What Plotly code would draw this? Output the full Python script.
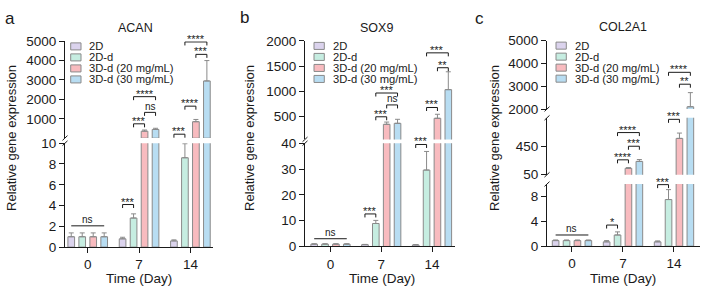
import plotly.graph_objects as go

W, H = 701, 295
FONT = "Liberation Sans, Arial, sans-serif"
INK = "#1a1a1a"
OUTLINE = "#8a8a8a"
ERRC = "#8a8a8a"

days = ["0", "7", "14"]
groups = ["2D", "2D-d", "3D-d (20 mg/mL)", "3D-d (30 mg/mL)"]
fills = ["#dbd3ed", "#c6ede1", "#f8bbbf", "#b8ddf2"]

# ---- ACAN ----
acan_2d = [1.0, 0.8, 0.6]
acan_2d_err = [0.37, 0.15, 0.1]
acan_2dd = [1.0, 2.8, 8.6]
acan_2dd_err = [0.37, 0.4, 1.35]
acan_3d20 = [1.0, 360, 850]
acan_3d20_err = [0.37, 60, 115]
acan_3d30 = [1.0, 450, 2950]
acan_3d30_err = [0.37, 60, 1050]

# ---- SOX9 ----
sox9_2d = [0.9, 0.7, 0.6]
sox9_2d_err = [0.15, 0.1, 0.1]
sox9_2dd = [0.9, 8.9, 29.6]
sox9_2dd_err = [0.15, 1.2, 7.2]
sox9_3d20 = [0.9, 340, 460]
sox9_3d20_err = [0.15, 45, 80]
sox9_3d30 = [0.9, 360, 1030]
sox9_3d30_err = [0.15, 80, 355]

# ---- COL2A1 ----
col_2d = [0.9, 0.7, 0.7]
col_2d_err = [0.1, 0.2, 0.15]
col_2dd = [0.9, 1.8, 7.5]
col_2dd_err = [0.1, 0.5, 1.6]
col_3d20 = [0.9, 140, 560]
col_3d20_err = [0.1, 10, 75]
col_3d30 = [0.9, 237, 2100]
col_3d30_err = [0.1, 26, 620]

# significance marks: (kind, day index, bar i, bar j, level, label)
acan_sig = [("line", 0, 0, 3, 2.05, "ns"), ("br", 1, 0, 1, 4.1, "***"),
            ("br", 1, 1, 2, 740, "***"), ("br", 1, 2, 3, 1330, "ns"),
            ("br", 1, 1, 3, 2140, "****"), ("br", 2, 0, 1, 205, "***"),
            ("br", 2, 1, 2, 1650, "****"), ("br", 2, 2, 3, 4320, "***"),
            ("br", 2, 1, 3, 4960, "****")]
sox9_sig = [("line", 0, 0, 3, 3.0, "ns"), ("br", 1, 0, 1, 12.6, "***"),
            ("br", 1, 1, 2, 490, "***"), ("br", 1, 2, 3, 726, "ns"),
            ("br", 1, 1, 3, 963, "***"), ("br", 2, 0, 1, 39.5, "***"),
            ("br", 2, 1, 2, 675, "***"), ("br", 2, 2, 3, 1466, "**"),
            ("br", 2, 1, 3, 1762, "***")]
col_sig = [("line", 0, 0, 3, 1.8, "ns"), ("br", 1, 0, 1, 3.4, "*"),
           ("br", 1, 1, 2, 259, "****"), ("br", 1, 2, 3, 450, "***"),
           ("br", 1, 1, 3, 642, "****"), ("br", 2, 0, 1, 9.9, "***"),
           ("br", 2, 1, 2, 828, "***"), ("br", 2, 2, 3, 3090, "**"),
           ("br", 2, 1, 3, 3612, "****")]

BAR_STEP = 0.214
BAR_W = 0.13

panels = [
    dict(title="ACAN", letter="a",
         series=[(acan_2d, acan_2d_err), (acan_2dd, acan_2dd_err),
                 (acan_3d20, acan_3d20_err), (acan_3d30, acan_3d30_err)],
         sig=acan_sig, xaxis="x", xpx=(65, 213), xrange=(-0.4425, 2.44),
         segs=[dict(axis="y", range=(0, 10), px=(253, 143.5), ticks=[0, 2, 4, 6, 8, 10]),
               dict(axis="y2", range=(10, 5000), px=(138, 36), ticks=[1000, 2000, 3000, 4000, 5000])],
         title_px=(135.7, 21.7), letter_px=(10, 12.5), ytitle_px=(12, 138),
         xtitle_px=(139, 286), legend_px=(70.7, 41.5)),
    dict(title="SOX9", letter="b",
         series=[(sox9_2d, sox9_2d_err), (sox9_2dd, sox9_2dd_err),
                 (sox9_3d20, sox9_3d20_err), (sox9_3d30, sox9_3d30_err)],
         sig=sox9_sig, xaxis="x2", xpx=(305, 455), xrange=(-0.502, 2.453),
         segs=[dict(axis="y3", range=(0, 40), px=(252.3, 143.5), ticks=[0, 10, 20, 30, 40]),
               dict(axis="y4", range=(40, 2000), px=(139.5, 35.7), ticks=[500, 1000, 1500, 2000])],
         title_px=(376.7, 21.7), letter_px=(245, 11.5), ytitle_px=(250, 138),
         xtitle_px=(381.7, 286), legend_px=(314, 41)),
    dict(title="COL2A1", letter="c",
         series=[(col_2d, col_2d_err), (col_2dd, col_2dd_err),
                 (col_3d20, col_3d20_err), (col_3d30, col_3d30_err)],
         sig=col_sig, xaxis="x3", xpx=(547, 700), xrange=(-0.49, 2.51),
         segs=[dict(axis="y5", range=(0, 10), px=(252, 186.5), ticks=[0, 4, 8]),
               dict(axis="y6", range=(50, 850), px=(176.7, 116.7), ticks=[50, 450]),
               dict(axis="y7", range=(2000, 5000), px=(107.5, 35.5), ticks=[2000, 3000, 4000, 5000])],
         title_px=(622.5, 20.7), letter_px=(479.5, 12.5), ytitle_px=(495, 138),
         xtitle_px=(623, 286), legend_px=(556, 40.7)),
]


def px2x(px):
    return px / W


def py2y(py):
    return 1 - py / H


fig = go.Figure()
layout = {}
shapes = []
annotations = []

axis_common = dict(showline=True, linecolor=INK, linewidth=1, ticks="outside",
                   tickcolor=INK, tickwidth=1, showgrid=False,
                   zeroline=False, tickfont=dict(family=FONT, size=13.5, color=INK),
                   fixedrange=True)

for p in panels:
    xa = p["xaxis"]
    xkey = "xaxis" + xa[1:]
    layout[xkey] = dict(domain=[px2x(p["xpx"][0]), px2x(p["xpx"][1])],
                        range=list(p["xrange"]), anchor=p["segs"][0]["axis"],
                        tickvals=[0, 1, 2], ticktext=days, ticklen=5,
                        **axis_common)
    nseg = len(p["segs"])
    for si, s in enumerate(p["segs"]):
        ykey = "yaxis" + s["axis"][1:]
        lo = s["range"][0]
        layout[ykey] = dict(domain=[py2y(s["px"][0]), py2y(s["px"][1])],
                            range=list(s["range"]), anchor=xa, tickvals=s["ticks"],
                            tickformat="d", ticklen=5, **axis_common)
        for k, (vals, err) in enumerate(p["series"]):
            # only the bars that reach into this axis segment are drawn there
            yv = [v if (si == 0 or v > lo) else None for v in vals]
            fig.add_trace(go.Bar(
                x=[0, 1, 2], y=yv, width=BAR_W,
                offset=(k - 1.5) * BAR_STEP - BAR_W / 2,
                xaxis=xa, yaxis=s["axis"], name=groups[k],
                marker=dict(color=fills[k], line=dict(color=OUTLINE, width=1)),
                error_y=dict(type="data", array=err, arrayminus=[0, 0, 0],
                             symmetric=False, color=ERRC, thickness=1, width=2.5),
                showlegend=False, hoverinfo="skip"))
        # axis break marks
        ax_px = p["xpx"][0]
        ends = []
        if si > 0:
            ends.append(s["px"][0])
        if si < nseg - 1:
            ends.append(s["px"][1])
        for ypx in ends:
            shapes.append(dict(type="line", xref="paper", yref="paper",
                               x0=px2x(ax_px - 2.5), y0=py2y(ypx + 2.5),
                               x1=px2x(ax_px + 2.5), y1=py2y(ypx - 2.5),
                               line=dict(color=INK, width=1)))

    # significance marks
    for kind, d, i, j, level, label in p["sig"]:
        seg = next(s for s in p["segs"] if s["range"][0] <= level <= s["range"][1])
        ya = seg["axis"]
        xi = d + (i - 1.5) * BAR_STEP
        xj = d + (j - 1.5) * BAR_STEP
        shapes.append(dict(type="line", xref=xa, yref=ya, x0=xi, x1=xj, y0=level, y1=level,
                           line=dict(color=INK, width=1)))
        if kind == "br":
            for xx in (xi, xj):
                shapes.append(dict(type="line", xref=xa, yref=ya, ysizemode="pixel",
                                   yanchor=level, x0=xx, x1=xx, y0=0, y1=-3.5,
                                   line=dict(color=INK, width=1)))
        is_ns = label == "ns"
        annotations.append(dict(x=(xi + xj) / 2, y=level, xref=xa, yref=ya,
                                text=label, showarrow=False, yanchor="middle",
                                yshift=6 if is_ns else 3,
                                font=dict(family=FONT, size=10 if is_ns else 11, color=INK)))

    # titles
    tx, ty = p["title_px"]
    annotations.append(dict(x=px2x(tx), y=py2y(ty), xref="paper", yref="paper",
                            text=p["title"], showarrow=False, xanchor="center", yanchor="middle",
                            font=dict(family=FONT, size=12.5, color=INK)))
    lx, ly = p["letter_px"]
    annotations.append(dict(x=px2x(lx), y=py2y(ly), xref="paper", yref="paper",
                            text=p["letter"], showarrow=False, xanchor="center", yanchor="middle",
                            font=dict(family=FONT, size=17, color=INK)))
    yx, yy = p["ytitle_px"]
    annotations.append(dict(x=px2x(yx), y=py2y(yy), xref="paper", yref="paper",
                            text="Relative gene expression", showarrow=False, textangle=-90,
                            xanchor="center", yanchor="middle",
                            font=dict(family=FONT, size=13, color=INK)))
    xx_, xy_ = p["xtitle_px"]
    annotations.append(dict(x=px2x(xx_), y=py2y(xy_), xref="paper", yref="paper",
                            text="Time (Day)", showarrow=False, xanchor="center", yanchor="middle",
                            font=dict(family=FONT, size=13.5, color=INK)))
    # manual legend
    bx, by = p["legend_px"]
    for k, g in enumerate(groups):
        cy = by + k * 11.6
        shapes.append(dict(type="rect", xref="paper", yref="paper",
                           x0=px2x(bx), x1=px2x(bx + 10.3),
                           y0=py2y(cy + 3.7), y1=py2y(cy - 3.7),
                           fillcolor=fills[k], line=dict(color=OUTLINE, width=1)))
        annotations.append(dict(x=px2x(bx + 16.6), y=py2y(cy), xref="paper", yref="paper",
                                text=g, showarrow=False, xanchor="left", yanchor="middle",
                                font=dict(family=FONT, size=11.2, color=INK)))

fig.update_layout(width=W, height=H, margin=dict(l=0, r=0, t=0, b=0),
                  paper_bgcolor="white", plot_bgcolor="white", barmode="overlay",
                  showlegend=False, shapes=shapes, annotations=annotations,
                  font=dict(family=FONT, color=INK), **layout)

fig.write_html("out.html", config={"displayModeBar": False},
               post_script="document.body.style.margin='0';document.body.style.overflow='hidden';")
